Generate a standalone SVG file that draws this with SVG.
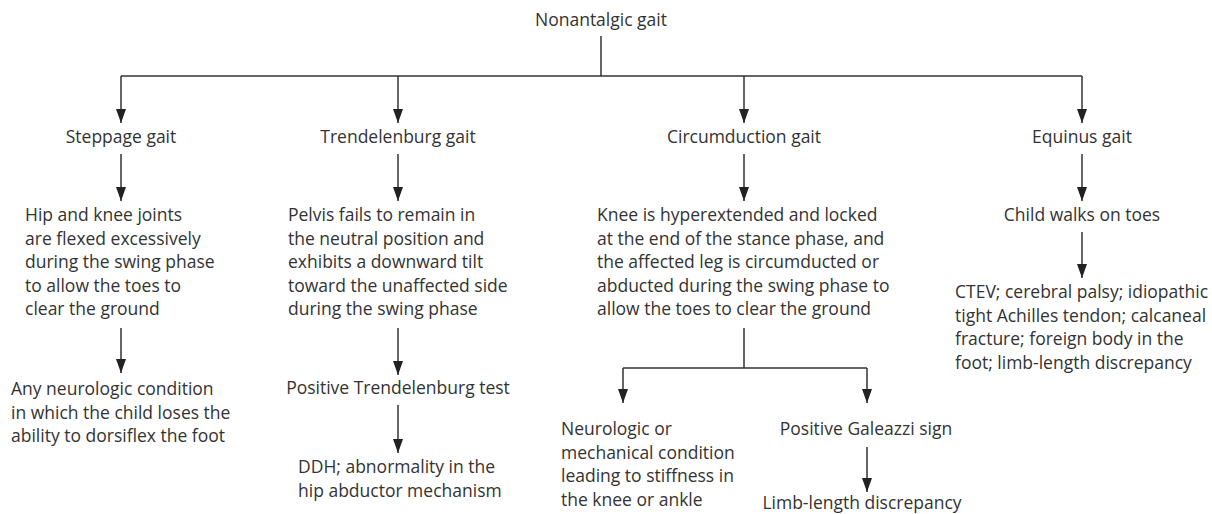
<svg xmlns="http://www.w3.org/2000/svg" width="1212" height="514" viewBox="0 0 1212 514">
<defs>
<marker id="arr" viewBox="0 0 14 10" refX="14" refY="5" markerWidth="14" markerHeight="10" orient="auto" markerUnits="userSpaceOnUse">
<path d="M0,0 L14,5 L0,10 z" fill="#222"/>
</marker>
<style>
text{font-family:"Open Sans","Noto Sans","Liberation Sans",sans-serif;font-size:17.5px;fill:#333}
.c{text-anchor:middle}
.ln{fill:none;stroke:#333;stroke-width:1.5}
.ar{fill:none;stroke:#333;stroke-width:1.5;marker-end:url(#arr)}
</style>
</defs>
<rect width="1212" height="514" fill="#fff"/>
<g id="connectors">
<path class="ln" d="M601,36 V76 M121,76 H1082"/>
<path class="ar" d="M121,76 V123"/>
<path class="ar" d="M398,76 V123"/>
<path class="ar" d="M744,76 V123"/>
<path class="ar" d="M1082,76 V123"/>
<path class="ar" d="M121,154 V201"/>
<path class="ar" d="M398,154 V201"/>
<path class="ar" d="M744,154 V201"/>
<path class="ar" d="M1082,154 V201"/>
<path class="ar" d="M121,328 V373"/>
<path class="ar" d="M398,328 V375"/>
<path class="ar" d="M398,405 V453"/>
<path class="ar" d="M1082,232 V278"/>
<path class="ln" d="M744,328 V368 M623,368 H867"/>
<path class="ar" d="M623,368 V403"/>
<path class="ar" d="M867,368 V403"/>
<path class="ar" d="M867,447 V492"/>
</g>
<g id="root"><text class="c" x="601" y="26">Nonantalgic gait</text></g>
<g id="steppage"><text class="c" x="121" y="143">Steppage gait</text></g>
<g id="trendelenburg"><text class="c" x="398" y="143">Trendelenburg gait</text></g>
<g id="circumduction"><text class="c" x="744" y="143">Circumduction gait</text></g>
<g id="equinus"><text class="c" x="1082" y="143">Equinus gait</text></g>
<g id="steppage-desc"><text x="25" y="221">Hip and knee joints</text><text x="25" y="244.5">are flexed excessively</text><text x="25" y="268">during the swing phase</text><text x="25" y="291.5">to allow the toes to</text><text x="25" y="315">clear the ground</text></g>
<g id="steppage-cause"><text x="11" y="395">Any neurologic condition</text><text x="11" y="418.5">in which the child loses the</text><text x="11" y="442">ability to dorsiflex the foot</text></g>
<g id="trendelenburg-desc"><text x="288" y="221">Pelvis fails to remain in</text><text x="288" y="244.5">the neutral position and</text><text x="288" y="268">exhibits a downward tilt</text><text x="288" y="291.5">toward the unaffected side</text><text x="288" y="315">during the swing phase</text></g>
<g id="trendelenburg-test"><text class="c" x="398" y="394">Positive Trendelenburg test</text></g>
<g id="trendelenburg-cause"><text x="298" y="473">DDH; abnormality in the</text><text x="298" y="497">hip abductor mechanism</text></g>
<g id="circumduction-desc"><text x="597" y="221">Knee is hyperextended and locked</text><text x="597" y="244.5">at the end of the stance phase, and</text><text x="597" y="268">the affected leg is circumducted or</text><text x="597" y="291.5">abducted during the swing phase to</text><text x="597" y="315">allow the toes to clear the ground</text></g>
<g id="circumduction-cause"><text x="561" y="435">Neurologic or</text><text x="561" y="458.5">mechanical condition</text><text x="561" y="482">leading to stiffness in</text><text x="561" y="505.5">the knee or ankle</text></g>
<g id="galeazzi"><text class="c" x="866" y="435">Positive Galeazzi sign</text></g>
<g id="limb-length"><text class="c" x="862" y="509">Limb-length discrepancy</text></g>
<g id="equinus-desc"><text class="c" x="1082" y="221">Child walks on toes</text></g>
<g id="equinus-cause"><text x="955" y="298">CTEV; cerebral palsy; idiopathic</text><text x="955" y="321.5">tight Achilles tendon; calcaneal</text><text x="955" y="345">fracture; foreign body in the</text><text x="955" y="368.5">foot; limb-length discrepancy</text></g>
</svg>
